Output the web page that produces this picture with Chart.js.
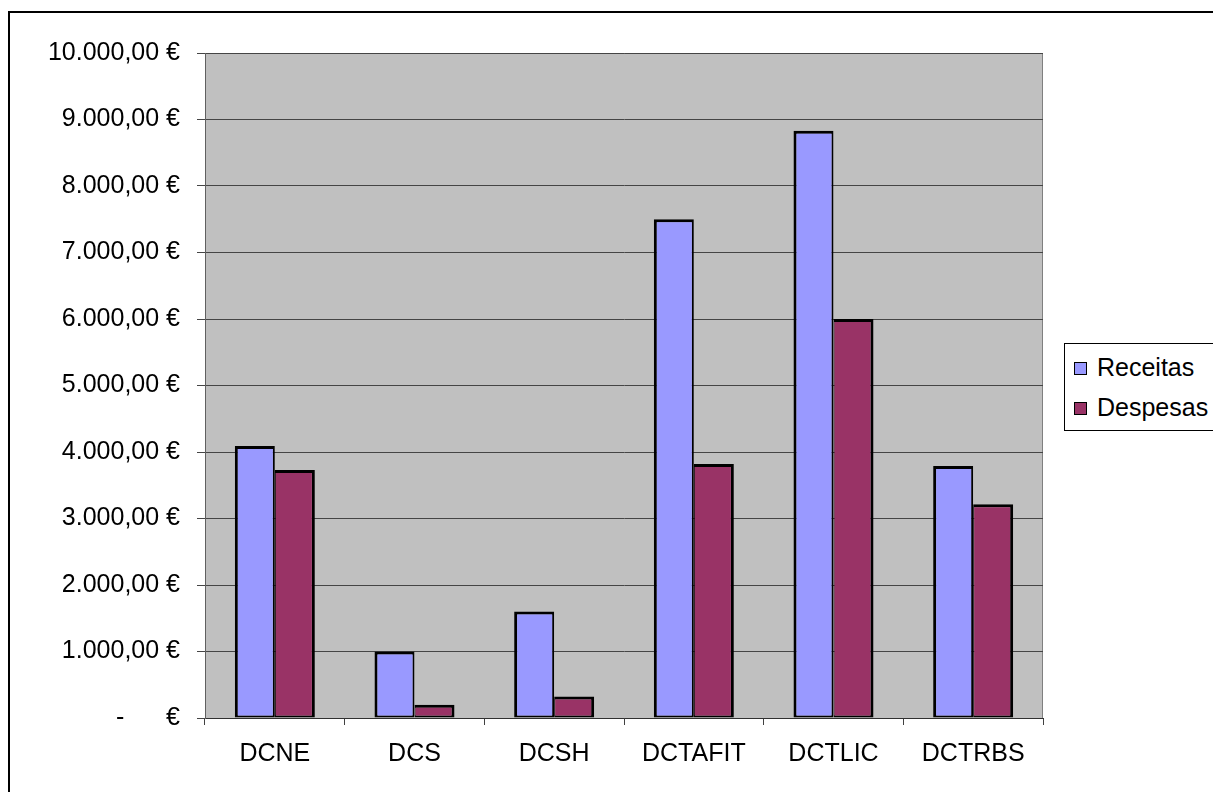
<!DOCTYPE html>
<html>
<head>
<meta charset="utf-8">
<script src="https://cdn.jsdelivr.net/npm/chart.js@4.4.1/dist/chart.umd.min.js"></script>
<style>
  html, body { margin: 0; padding: 0; background: #fff; overflow: hidden; }
  #frame { position: absolute; left: 8px; top: 11px; width: 1260px; height: 820px; border: 2px solid #000; }
  #wrap { position: absolute; left: 0; top: 0; width: 1213px; height: 792px; }
  #legend {
    position: absolute; left: 1064px; top: 343px; width: 200px; height: 86px;
    border: 1px solid #000; background: #fff;
    font: 25px "Liberation Sans", Arial, sans-serif; color: #000;
  }
  #legend div { position: absolute; left: 9px; white-space: nowrap; line-height: 28px; }
  #legend span {
    display: inline-block; width: 11px; height: 11px; border: 1px solid #000;
    margin-right: 10px; vertical-align: 1px;
  }
</style>
</head>
<body>
<div id="frame"></div>
<div id="wrap"><canvas id="chart"></canvas></div>
<div id="legend"></div>
<script>
// receitas / despesas por departamento
const categories = ['DCNE', 'DCS', 'DCSH', 'DCTAFIT', 'DCTLIC', 'DCTRBS'];
const receitas = [4090, 1000, 1600, 7500, 8830, 3790];
const despesas = [3730, 200, 325, 3820, 6000, 3215];
const seriesNames = ['Receitas', 'Despesas'];
const seriesColors = ['#9999ff', '#993366'];

const FONT = { family: '"Liberation Sans", Arial, sans-serif', size: 25 };

// formato contabilístico: 10.000,00 €
function euro(v) {
  if (v === 0) return '-\u00a0\u00a0\u00a0\u00a0\u00a0\u00a0€';
  const [int, dec] = v.toFixed(2).split('.');
  return int.replace(/\B(?=(\d{3})+(?!\d))/g, '.') + ',' + dec + ' €';
}

// fundo cinzento da área de desenho
const plotBg = {
  id: 'plotBg',
  beforeDraw(chart) {
    const { ctx, chartArea: a } = chart;
    ctx.save();
    ctx.fillStyle = '#c0c0c0';
    ctx.fillRect(a.left, a.top, a.right - a.left, a.bottom - a.top);
    ctx.strokeStyle = '#808080';
    ctx.lineWidth = 1;
    ctx.strokeRect(a.left + 0.5, a.top + 0.5, a.right - a.left - 1, a.bottom - a.top);
    ctx.restore();
  },
};

const chart = new Chart(document.getElementById('chart'), {
  type: 'bar',
  data: {
    labels: categories,
    datasets: [
      {
        label: seriesNames[0], data: receitas, backgroundColor: seriesColors[0],
        borderWidth: { top: 3, left: 3, right: 2, bottom: 2 },
      },
      {
        // a linha comum entre as duas barras fica só com ~3px
        label: seriesNames[1], data: despesas, backgroundColor: seriesColors[1],
        borderWidth: { top: 3, left: 1, right: 3, bottom: 2 },
      },
    ],
  },
  options: {
    responsive: true, maintainAspectRatio: false, animation: false,
    layout: { padding: { top: 53, right: 170, bottom: 14, left: 0 } },
    datasets: {
      bar: { categoryPercentage: 0.573, barPercentage: 1, borderColor: '#000', borderSkipped: false },
    },
    plugins: { legend: { display: false }, tooltip: { enabled: false } },
    scales: {
      x: {
        grid: { offset: true, drawOnChartArea: false, tickLength: 7, color: '#404040' },
        border: { color: '#303030', width: 1 },
        ticks: { color: '#000', font: FONT, padding: 14, maxRotation: 0 },
        afterFit(s) { s.height = 60; },
      },
      y: {
        min: 0, max: 10000,
        grid: { color: '#454545', tickLength: 8 },
        border: { color: '#606060', width: 1 },
        ticks: { stepSize: 1000, color: '#000', font: FONT, padding: 17, callback: (v) => euro(v) },
        afterFit(s) { s.width = 205; },
      },
    },
  },
  plugins: [plotBg],
});

// legenda com caixa, à direita
const legend = document.getElementById('legend');
chart.data.datasets.forEach((ds, i) => {
  const row = document.createElement('div');
  row.style.top = (9 + i * 40) + 'px';
  row.innerHTML = `<span style="background:${ds.backgroundColor}"></span>${ds.label}`;
  legend.appendChild(row);
});
</script>
</body>
</html>
